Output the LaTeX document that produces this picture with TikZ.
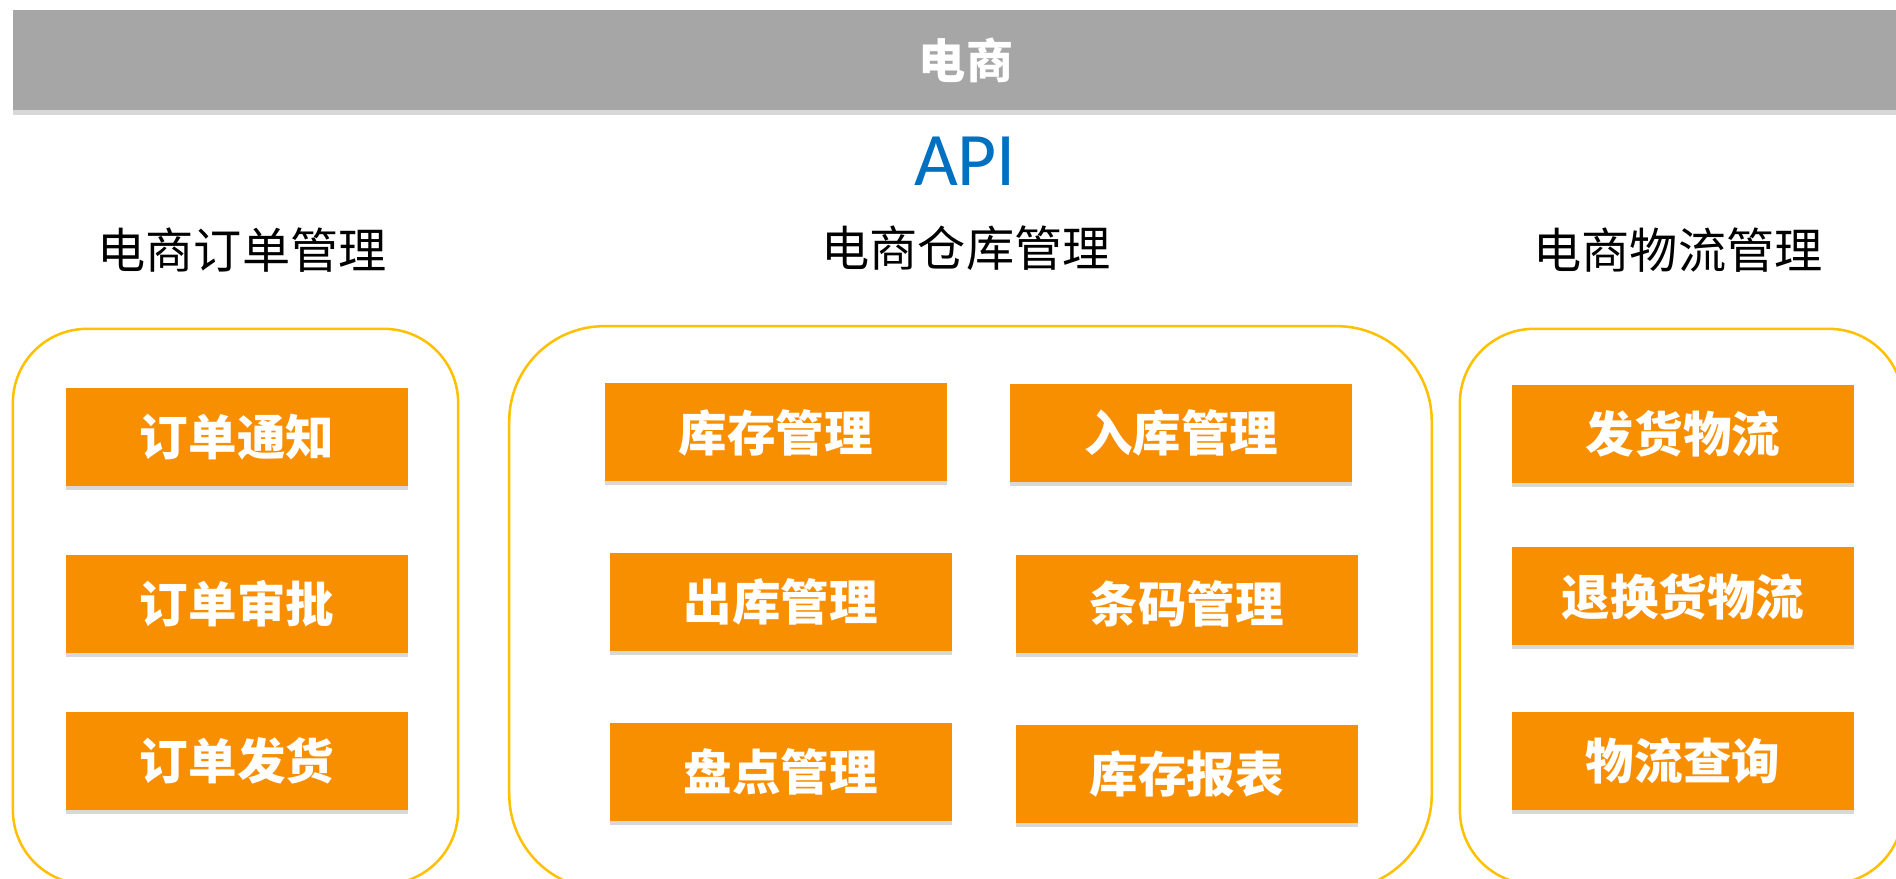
\documentclass[tikz,border=0pt]{standalone}
\usepackage{fontspec}
\setmainfont{Carlito}
\newfontfamily\cjk{Noto Sans CJK SC}
\usetikzlibrary{shadows}
\definecolor{bargray}{RGB}{166,166,166}
\definecolor{modorange}{RGB}{247,143,0}
\definecolor{groupyellow}{RGB}{255,192,0}
\definecolor{apiblue}{RGB}{0,112,192}
\tikzstyle{banner}=[fill=bargray, minimum width=19.04cm, minimum height=0.99cm, text=white, font=\cjk\bfseries\fontsize{13.4pt}{16pt}\selectfont, drop shadow={shadow xshift=0cm, shadow yshift=-0.05cm, opacity=0.3}]
\tikzstyle{heading}=[font=\cjk\fontsize{13.7pt}{16pt}\selectfont]
\tikzstyle{group}=[draw=groupyellow, line width=0.025cm, minimum width=4.45cm, minimum height=5.55cm, rounded corners=0.74cm]
\tikzstyle{module}=[fill=modorange, minimum width=3.42cm, minimum height=0.98cm, text=white, font=\cjk\bfseries\fontsize{13.8pt}{16pt}\selectfont, drop shadow={shadow xshift=0cm, shadow yshift=-0.04cm, opacity=0.3}]

\begin{document}
\begin{tikzpicture}[x=0.01cm, y=-0.01cm]
      \fill[white] (0,0) rectangle (1896,878);
      \useasboundingbox (0,0) rectangle (1896,878);
      \clip (0,0) rectangle (1896,878);

      \node[banner] (ecom) at (966,60) {电商};
      \node[anchor=base, text=apiblue, font=\fontsize{21.5pt}{26pt}\selectfont] (api) at (965,185) {API};

      \node[heading] (order_title) at (242,250) {电商订单管理};
      \node[heading] (store_title) at (966,248) {电商仓库管理};
      \node[heading] (ship_title) at (1678,250) {电商物流管理};

      \node[group] (orders) at (235.5,606.5) {};
      \node[group, minimum width=9.22cm, minimum height=5.63cm, rounded corners=0.95cm] (store) at (970.5,607.8) {};
      \node[group, minimum width=4.43cm] (ship) at (1681.5,606.5) {};

      \node[module] (notify) at (237,437) {订单通知};
      \node[module] (approve) at (237,604) {订单审批};
      \node[module] (deliver) at (237,761) {订单发货};

      \node[module] (stock) at (775.7,432.4) {库存管理};
      \node[module] (inbound) at (1181.3,432.9) {入库管理};
      \node[module] (outbound) at (780.8,602) {出库管理};
      \node[module] (barcode) at (1186.8,603.7) {条码管理};
      \node[module] (count) at (780.8,772) {盘点管理};
      \node[module] (report) at (1186.8,774.4) {库存报表};

      \node[module] (send) at (1683,433.6) {发货物流};
      \node[module] (return) at (1683,596.4) {退换货物流};
      \node[module] (track) at (1683,760.8) {物流查询};
    \end{tikzpicture}
\end{document}
